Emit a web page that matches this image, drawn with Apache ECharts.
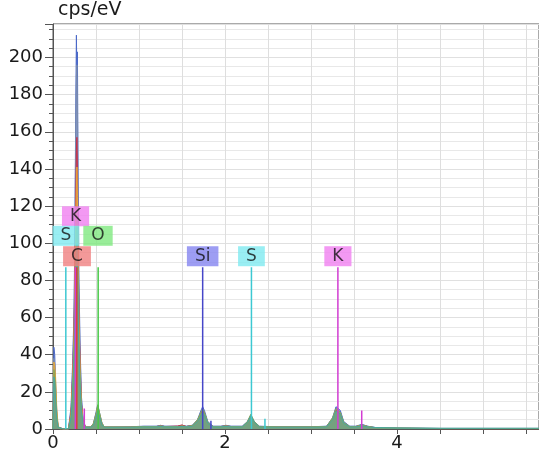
<!DOCTYPE html>
<html>
<head>
<meta charset="utf-8">
<script src="https://cdn.jsdelivr.net/npm/echarts@6/dist/echarts.min.js"></script>
<style>
  html, body { margin: 0; padding: 0; background: #fff; }
  #chart { width: 539px; height: 454px; }
</style>
</head>
<body>
<div id="chart"></div>
<script>
// Energy channels (keV) shared by every spectrum
const energies = [
  0, 0.01, 0.02, 0.03, 0.045, 0.06, 0.08, 0.12, 0.18, 0.21,
  0.23, 0.245, 0.255, 0.265, 0.272, 0.278, 0.284, 0.29, 0.30, 0.315,
  0.33, 0.35, 0.38, 0.44, 0.47, 0.50, 0.52, 0.54, 0.57, 0.60,
  0.70, 0.90, 1.05, 1.20, 1.25, 1.30, 1.45, 1.50, 1.55, 1.62,
  1.68, 1.72, 1.74, 1.76, 1.80, 1.86, 1.95, 2.01, 2.07, 2.20,
  2.26, 2.30, 2.34, 2.40, 2.60, 3.00, 3.18, 3.25, 3.29, 3.31,
  3.34, 3.38, 3.45, 3.52, 3.59, 3.66, 3.75, 4.00, 4.50, 5.00,
  5.70
];

// Overlaid spectra (cps/eV)
const spectrum1 = [
  0, 44, 40, 25, 8, 1, 0, 0, 0, 12,
  38, 65, 110, 175, 212, 190, 203, 150, 85, 45,
  18, 5, 1, 1, 3, 9, 13, 9, 3, 1,
  1, 1.2, 1.5, 1.5, 2, 1.5, 1.5, 2, 1.5, 2,
  5, 10, 12, 10, 4, 1.5, 1.5, 2, 1.5, 1.5,
  4, 7.5, 4, 1.5, 1.2, 1.2, 1.5, 6, 12, 13,
  10, 4, 1.5, 1.5, 2.5, 1.5, 0.8, 0.5, 0.3, 0.3,
  0.3
];
const spectrum2 = [
  0, 38, 35, 22, 7, 1, 0, 0, 0, 10,
  34, 60, 100, 165, 190, 196, 175, 130, 75, 40,
  16, 4, 1, 1, 3, 8, 12, 8, 3, 1,
  1, 1, 1.4, 1.4, 1.8, 1.4, 1.4, 1.8, 1.4, 2,
  4.5, 9, 11, 9, 3.5, 1.4, 1.4, 1.8, 1.4, 1.4,
  3.5, 7, 3.5, 1.4, 1.1, 1.1, 1.4, 5.5, 11, 12,
  9, 3.5, 1.4, 1.4, 2.2, 1.4, 0.7, 0.4, 0.3, 0.3,
  0.3
];
const spectrum3 = [
  0, 30, 28, 18, 6, 1, 0, 0, 0, 9,
  30, 55, 85, 125, 150, 157, 140, 105, 65, 35,
  14, 4, 1, 1, 2.5, 7, 11, 7, 2.5, 1,
  1, 1, 1.2, 1.3, 1.6, 1.3, 1.6, 2.2, 1.3, 1.8,
  4, 8, 10, 8, 3, 1.3, 1.3, 1.6, 1.3, 1.3,
  3, 6, 3, 1.3, 1, 1, 1.3, 5, 10, 11,
  8, 3, 1.3, 1.3, 2, 1.3, 0.6, 0.4, 0.2, 0.2,
  0.2
];
const spectrum4 = [
  0, 36, 34, 28, 10, 2, 0, 0, 0, 8,
  28, 50, 80, 115, 130, 141, 125, 95, 60, 32,
  13, 4, 1, 1, 2.5, 7, 12, 8, 2.5, 1,
  1, 1, 1.2, 1.2, 1.5, 1.2, 1.2, 1.5, 1.2, 1.6,
  4, 8, 9, 8, 3, 1.2, 1.2, 1.5, 1.2, 1.2,
  3, 6.5, 3, 1.2, 1, 1, 1.2, 5, 9, 10,
  8, 3, 1.2, 1.2, 2, 1.2, 0.6, 0.4, 0.2, 0.2,
  0.2
];
const spectrum5 = [
  0, 32, 30, 20, 7, 1, 0, 0, 0, 7,
  25, 45, 70, 95, 115, 120, 110, 85, 52, 28,
  11, 3, 1, 1, 3, 8, 13, 9, 3, 1,
  1, 1, 1.3, 1.3, 1.6, 1.3, 1.3, 1.6, 1.3, 1.8,
  5, 9, 11, 9, 3.5, 1.3, 1.3, 1.6, 1.3, 1.3,
  4, 8, 4, 1.3, 1.1, 1.1, 1.3, 6, 11, 12,
  9, 3.5, 1.3, 1.3, 2.2, 1.3, 0.7, 0.5, 0.3, 0.3,
  0.3
];
const spectrum6 = [
  0, 28, 26, 16, 5, 1, 0, 0, 0, 6,
  22, 40, 60, 80, 95, 100, 90, 70, 45, 24,
  10, 3, 1, 1, 2, 6, 10, 7, 2, 1,
  1, 1, 1.1, 1.1, 1.4, 1.1, 1.1, 1.4, 1.1, 1.5,
  4, 7.5, 9, 7.5, 3, 1.1, 1.1, 1.4, 1.1, 1.1,
  3.5, 7, 3.5, 1.1, 1, 1, 1.1, 5, 9.5, 10.5,
  8, 3, 1.1, 1.1, 1.8, 1.1, 0.8, 0.6, 0.4, 0.4,
  0.4
];
const spectra = [spectrum1, spectrum2, spectrum3, spectrum4, spectrum5, spectrum6];
const spectrumColors = ['#4a68c8', '#7a8cae', '#c83048', '#e8a838', '#8aa858', '#48a8a0'];

// Element emission lines (keV) and drawn heights (cps/eV)
const lineEnergies = [0.149, 0.260, 0.277, 0.525, 1.740, 2.307, 3.312, 0.364, 1.836, 2.464, 3.589];
const lineHeights  = [87, 87, 87, 87, 87, 87, 87, 11, 4.5, 5.5, 10];
const lineColors   = ['#3cc8d2', '#d23cd2', '#e03c3c', '#46c846', '#4646c8', '#3cc8d2', '#d23cd2',
                      '#d23cd2', '#4646c8', '#3cc8d2', '#d23cd2'];

// Element tags
const tagNames    = ['K', 'S', 'O', 'C', 'Si', 'S', 'K'];
const tagEnergies = [0.262, 0.151, 0.523, 0.279, 1.740, 2.307, 3.312];
const tagLevels   = [114.5, 104, 104, 93, 93, 93, 93];
const tagColors   = ['#f080f0', '#80eaf0', '#80e880', '#f08080', '#8484f0', '#80eaf0', '#f080f0'];

// Axis ticks
const xLabelled = [0, 2, 4];
const yMax = 218;

const FONT = 'DejaVu Sans, Verdana, sans-serif';

const series = [];

spectra.forEach((vals, i) => {
  series.push({
    type: 'line',
    data: energies.map((e, k) => [e, vals[k]]),
    symbol: 'none',
    silent: true,
    z: 2 + i,
    lineStyle: { width: 1, color: spectrumColors[i] },
    areaStyle: { color: spectrumColors[i], opacity: 0.55 }
  });
});

lineEnergies.forEach((e, i) => {
  series.push({
    type: 'line',
    data: [[e, 0], [e, lineHeights[i]]],
    symbol: 'none',
    silent: true,
    z: 10,
    lineStyle: { width: 1.5, color: lineColors[i] }
  });
});

series.push({
  type: 'scatter',
  silent: true,
  z: 20,
  symbolSize: 1,
  itemStyle: { color: 'transparent' },
  data: tagNames.map((n, i) => ({
    value: [tagEnergies[i], tagLevels[i]],
    name: n,
    label: { backgroundColor: tagColors[i] }
  })),
  label: {
    show: true,
    position: 'inside',
    formatter: p => p.name,
    fontFamily: FONT,
    fontSize: 17,
    lineHeight: 18,
    color: '#111',
    padding: [1, 8, 1, 8]
  }
});

const chart = echarts.init(document.getElementById('chart'), null, { renderer: 'canvas' });
chart.setOption({
  animation: false,
  backgroundColor: '#fff',
  grid: {
    left: 53, top: 24, right: -2, bottom: 25,
    show: true, borderColor: '#555', borderWidth: 1, backgroundColor: '#fff'
  },
  graphic: [{
    type: 'text', left: 58, top: 1,
    style: { text: 'cps/eV', font: '19px ' + FONT, fill: '#1a1a1a' }
  }],
  xAxis: {
    type: 'value', min: 0, max: 5.65, interval: 0.5,
    axisLine: { onZero: false, lineStyle: { color: '#555', width: 1 } },
    axisTick: { show: true, length: 5, lineStyle: { color: '#555' } },
    axisLabel: {
      fontFamily: FONT, fontSize: 18, color: '#1a1a1a', margin: 5,
      showMaxLabel: false,
      formatter: v => (xLabelled.indexOf(Math.round(v * 100) / 100) >= 0 ? String(Math.round(v)) : '')
    },
    splitLine: { show: true, lineStyle: { color: '#dedede', width: 1 } }
  },
  yAxis: {
    type: 'value', min: 0, max: yMax, interval: 20,
    axisLine: { show: true, lineStyle: { color: '#555', width: 1 } },
    axisTick: { show: true, length: 8, lineStyle: { color: '#555' } },
    minorTick: { show: true, splitNumber: 4, length: 4, lineStyle: { color: '#555' } },
    axisLabel: {
      fontFamily: FONT, fontSize: 18, color: '#1a1a1a', margin: 10, showMaxLabel: false
    },
    splitLine: { show: true, lineStyle: { color: '#e0e0e0', width: 1 } },
    minorSplitLine: { show: true, lineStyle: { color: '#e8e8e8', width: 1 } }
  },
  series: series
});
</script>
</body>
</html>
